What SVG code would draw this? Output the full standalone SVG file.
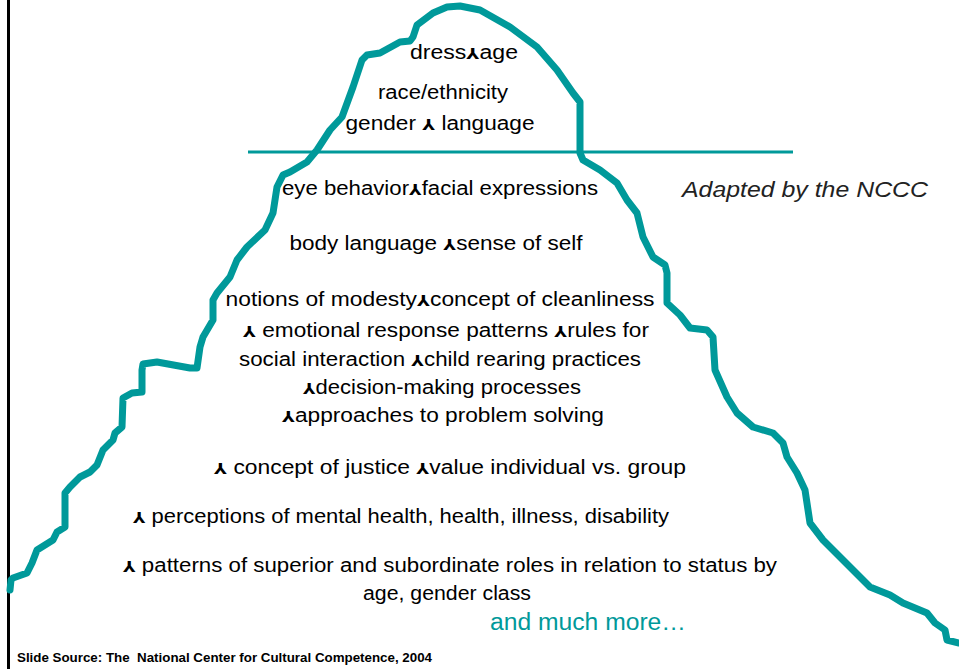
<svg xmlns="http://www.w3.org/2000/svg" width="959" height="669" viewBox="0 0 959 669">
<style>
.t{font-family:"Liberation Sans","DejaVu Sans",sans-serif;font-size:20px;fill:#000;text-anchor:middle}
.b{font-family:"DejaVu Sans",sans-serif;font-weight:bold;font-size:15px}
.ice{fill:none;stroke:#00999a;stroke-width:7;stroke-linejoin:round;stroke-linecap:round}
</style>
<rect width="959" height="669" fill="#fff"/>
<line x1="8.5" y1="0" x2="8.5" y2="669" stroke="#000" stroke-width="3"/>
<g id="connectors">
<polyline class="ice" points="10,590 11,580 13,578 27,573 32,563 37,550 53,540 57,532 65,527 65,493 70,487 80,477 90,472 97,465 103,450 113,440 115,433 122,427 123,398 132,393 142,392 142,370 143,364 157,362 190,368 197,368 200,347 203,337 213,320 213,300 217,293 230,277 237,260 247,247 265,230 273,213 275,200 277,187 283,175 290,172 307,162 317,150 330,130 342,117 353,87 362,60 367,55 380,53 400,42 410,41 413,37 417,25 433,13 447,7 460,6 480,10 510,27 537,47 557,70 573,93 580,102 580,153 583,160 600,170 617,183 627,200 637,213 643,237 653,257 665,265 667,273 667,303 680,315 690,328 707,330 713,337 715,370 727,397 737,413 753,427 773,433 783,443 787,457 797,473 805,490 810,523 823,540 840,557 863,580 870,587 890,595 903,603 927,613 935,623 945,630 947,640 959,643"/>
<line x1="248" y1="152" x2="793" y2="152" stroke="#00999a" stroke-width="3"/>
</g>
<g id="above">
<text class="t" x="464" y="59" textLength="108" lengthAdjust="spacingAndGlyphs">dress<tspan class="b">⅄</tspan>age</text>
<text class="t" x="443" y="99" textLength="130" lengthAdjust="spacingAndGlyphs">race/ethnicity</text>
<text class="t" x="440" y="130" textLength="189" lengthAdjust="spacingAndGlyphs">gender <tspan class="b">⅄</tspan> language</text>
</g>
<g id="below">
<text class="t" x="440" y="195" textLength="316" lengthAdjust="spacingAndGlyphs">eye behavior<tspan class="b">⅄</tspan>facial expressions</text>
<text class="t" x="436" y="250" textLength="293" lengthAdjust="spacingAndGlyphs">body language <tspan class="b">⅄</tspan>sense of self</text>
<text class="t" x="440" y="306" textLength="429" lengthAdjust="spacingAndGlyphs">notions of modesty<tspan class="b">⅄</tspan>concept of cleanliness</text>
<text class="t" x="446" y="337" textLength="406" lengthAdjust="spacingAndGlyphs"><tspan class="b">⅄</tspan> emotional response patterns <tspan class="b">⅄</tspan>rules for</text>
<text class="t" x="440" y="366" textLength="402" lengthAdjust="spacingAndGlyphs">social interaction <tspan class="b">⅄</tspan>child rearing practices</text>
<text class="t" x="442" y="394" textLength="278" lengthAdjust="spacingAndGlyphs"><tspan class="b">⅄</tspan>decision-making processes</text>
<text class="t" x="443" y="422" textLength="322" lengthAdjust="spacingAndGlyphs"><tspan class="b">⅄</tspan>approaches to problem solving</text>
<text class="t" x="450" y="474" textLength="472" lengthAdjust="spacingAndGlyphs"><tspan class="b">⅄</tspan> concept of justice <tspan class="b">⅄</tspan>value individual vs. group</text>
<text class="t" x="401" y="523" textLength="536" lengthAdjust="spacingAndGlyphs"><tspan class="b">⅄</tspan> perceptions of mental health, health, illness, disability</text>
<text class="t" x="450" y="572" textLength="654" lengthAdjust="spacingAndGlyphs"><tspan class="b">⅄</tspan> patterns of superior and subordinate roles in relation to status by</text>
<text class="t" x="447" y="600" textLength="168" lengthAdjust="spacingAndGlyphs">age, gender class</text>
<text class="t" x="588" y="630" style="fill:#00999a;font-size:23px" textLength="196" lengthAdjust="spacingAndGlyphs">and much more…</text>
</g>
<g id="credit">
<text x="682" y="197" style="font-family:'Liberation Sans',sans-serif;font-style:italic;font-size:22px;fill:#222" textLength="246" lengthAdjust="spacingAndGlyphs">Adapted by the NCCC</text>
<text x="17" y="662" style="font-family:'Liberation Sans',sans-serif;font-weight:bold;font-size:12px;fill:#000" textLength="415" lengthAdjust="spacingAndGlyphs" xml:space="preserve">Slide Source: The  National Center for Cultural Competence, 2004</text>
</g>
</svg>
